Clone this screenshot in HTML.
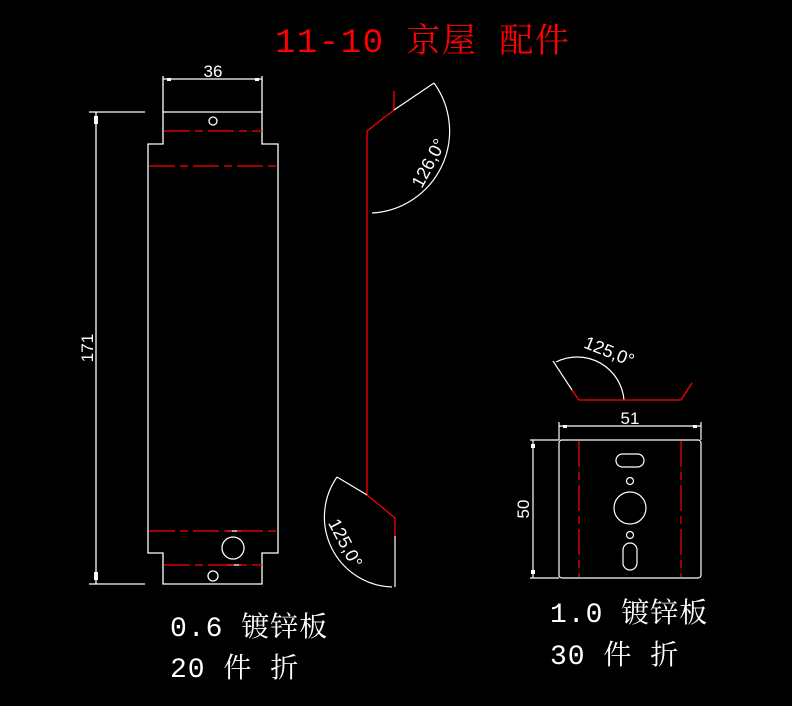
<!DOCTYPE html>
<html><head><meta charset="utf-8"><style>
html,body{margin:0;padding:0;background:#000;}
svg{display:block}
</style></head><body>
<svg width="792" height="706" viewBox="0 0 792 706" xmlns="http://www.w3.org/2000/svg" font-family="Liberation Sans, sans-serif">
<rect width="792" height="706" fill="#000"/>
<text x="275" y="52" fill="#ff0000" font-size="34" letter-spacing="1.5" font-family="Liberation Mono, Noto Serif CJK SC, monospace">11-10 京屋 配件</text>

<g stroke="#fff" stroke-width="1.3" fill="none">
<path d="M163 112 H262 V144 H278 V553 H262 V584 H163 V553 H148 V144 H163 Z"/>
<circle cx="213" cy="121" r="4"/>
<circle cx="233" cy="548" r="11"/>
<circle cx="213" cy="576" r="5"/>
<line x1="163" y1="76" x2="163" y2="112"/>
<line x1="262" y1="76" x2="262" y2="112"/>
<line x1="163" y1="79" x2="262" y2="79"/>
<line x1="89" y1="112" x2="145" y2="112"/>
<line x1="89" y1="584" x2="145" y2="584"/>
<line x1="96" y1="112" x2="96" y2="584"/>
<line x1="227" y1="531" x2="241" y2="531"/>
<line x1="227" y1="565" x2="241" y2="565"/>
</g>
<g fill="#fff">
<rect x="167" y="78" width="4" height="3"/><rect x="255" y="78" width="4" height="3"/>
<rect x="94" y="116" width="4" height="8"/><rect x="94" y="572" width="4" height="8"/>
</g>
<text x="213" y="77" fill="#fff" font-size="17" text-anchor="middle">36</text>
<text transform="translate(93,348) rotate(-90)" fill="#fff" font-size="17" text-anchor="middle">171</text>
<g stroke="#ff0000" stroke-width="1.3" stroke-dasharray="26,5,8,5">
<line x1="164" y1="131" x2="262" y2="131"/>
<line x1="149" y1="166" x2="278" y2="166"/>
<line x1="149" y1="531" x2="278" y2="531"/>
<line x1="164" y1="565" x2="262" y2="565"/>
</g>

<g stroke="#ff0000" stroke-width="1.3" fill="none">
<path d="M394 91 V110 L367 131 V495 L395 518 V536"/>
</g>
<g stroke="#fff" stroke-width="1.2" fill="none">
<line x1="394" y1="110" x2="434" y2="83"/>
<path d="M434 83 A82 82 0 0 1 372 213"/>
<line x1="337" y1="477" x2="367" y2="495"/>
<path d="M337 477 A70 70 0 0 0 392 587"/>
<line x1="395" y1="536" x2="395" y2="587"/>
</g>
<text transform="translate(434,166) rotate(-62)" fill="#fff" font-size="18" text-anchor="middle">126,0°</text>
<text transform="translate(340,546) rotate(62)" fill="#fff" font-size="18" text-anchor="middle">125,0°</text>

<g stroke="#fff" stroke-width="1.2" fill="none">
<rect x="559" y="440" width="142" height="138" rx="3"/>
<rect x="616" y="454" width="28" height="13" rx="6.5"/>
<circle cx="630" cy="481" r="3.5"/>
<circle cx="630" cy="508" r="16"/>
<circle cx="630" cy="535" r="3.5"/>
<rect x="623" y="543" width="14" height="27" rx="7"/>
<line x1="559" y1="422" x2="559" y2="440"/>
<line x1="701" y1="422" x2="701" y2="440"/>
<line x1="559" y1="426" x2="701" y2="426"/>
<line x1="530" y1="440" x2="559" y2="440"/>
<line x1="530" y1="578" x2="559" y2="578"/>
<line x1="533" y1="440" x2="533" y2="578"/>
<line x1="572" y1="390" x2="553" y2="361"/>
<path d="M556 362 A47 47 0 0 1 624 400"/>
</g>
<g fill="#fff">
<rect x="563" y="425" width="4" height="3"/><rect x="693" y="425" width="4" height="3"/>
<rect x="531" y="444" width="4" height="4"/><rect x="531" y="570" width="4" height="4"/>
</g>
<text x="630" y="424" fill="#fff" font-size="17" text-anchor="middle">51</text>
<text transform="translate(529,509) rotate(-90)" fill="#fff" font-size="17" text-anchor="middle">50</text>
<text transform="translate(607,357) rotate(22)" fill="#fff" font-size="18" text-anchor="middle">125,0°</text>
<g stroke="#ff0000" stroke-width="1.3" fill="none">
<path d="M572 390 L579 400 H681 L692 383"/>
</g>
<g stroke="#ff0000" stroke-width="1.2" stroke-dasharray="26,5,8,5">
<line x1="579" y1="441" x2="579" y2="577"/>
<line x1="681" y1="441" x2="681" y2="577"/>
</g>

<g fill="#fff" font-size="28" letter-spacing="1" font-family="Liberation Mono, Noto Serif CJK SC, monospace">
<text x="170" y="636">0.6 镀锌板</text>
<text x="170" y="677">20 件 折</text>
<text x="550" y="622">1.0 镀锌板</text>
<text x="550" y="664">30 件 折</text>
</g>
</svg>
</body></html>
